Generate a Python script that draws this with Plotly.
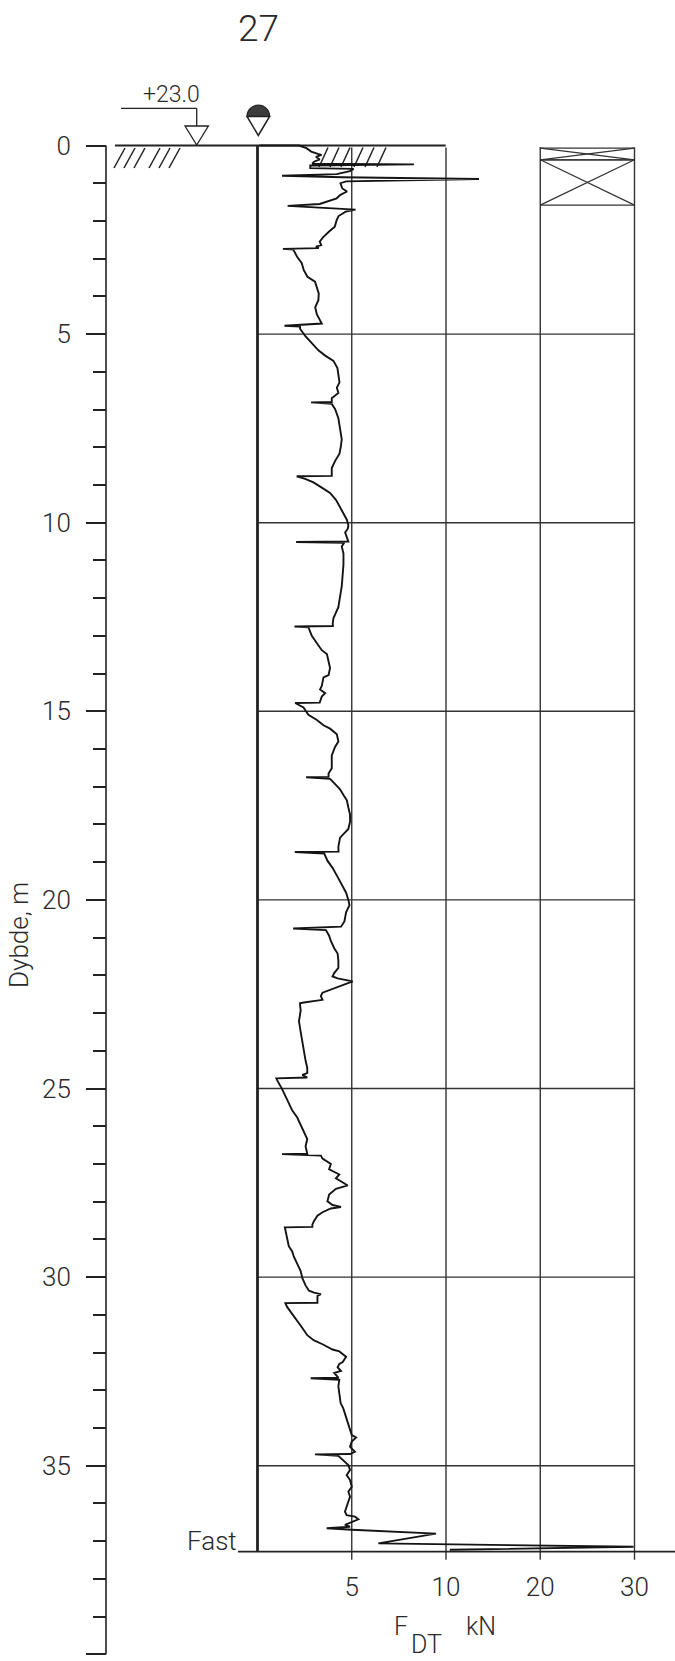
import plotly.graph_objects as go

# ---------------- data ----------------
depth_m = [
    0.00, 0.00, 0.07, 0.16, 0.22, 0.25, 0.30, 0.37, 0.43, 0.48, 0.50, 0.53, 0.60, 0.62, 0.68,
    0.76, 0.80, 0.84, 0.89, 0.95, 1.00, 1.14, 1.22, 1.31, 1.40, 1.48, 1.55, 1.60, 1.70, 1.75,
    1.87, 1.98, 2.15, 2.28, 2.42, 2.55, 2.64, 2.68, 2.72, 2.74, 2.76, 2.95, 3.12, 3.30, 3.48,
    3.61, 3.74, 3.92, 4.10, 4.29, 4.48, 4.72, 4.78, 4.80, 4.86, 5.05, 5.24, 5.43, 5.57, 5.71,
    5.90, 6.09, 6.28, 6.42, 6.56, 6.70, 6.80, 6.81, 6.85, 6.99, 7.23, 7.51, 7.79, 7.98, 8.17,
    8.36, 8.46, 8.55, 8.76, 8.77, 8.84, 8.93, 9.07, 9.21, 9.40, 9.59, 9.78, 9.92, 10.07, 10.16,
    10.26, 10.40, 10.50, 10.51, 10.53, 10.63, 10.82, 11.11, 11.39, 11.68, 11.96, 12.24, 12.43, 12.53, 12.67,
    12.74, 12.75, 12.77, 13.00, 13.19, 13.38, 13.48, 13.66, 13.85, 14.04, 14.10, 14.33, 14.42, 14.52, 14.61,
    14.77, 14.78, 14.90, 15.09, 15.23, 15.37, 15.46, 15.61, 15.80, 15.94, 16.17, 16.51, 16.65, 16.74, 16.75,
    16.79, 16.93, 17.07, 17.22, 17.36, 17.55, 17.74, 17.93, 18.12, 18.21, 18.35, 18.59, 18.72, 18.73, 18.77,
    18.96, 19.15, 19.39, 19.62, 19.81, 20.00, 20.14, 20.33, 20.57, 20.71, 20.76, 20.80, 20.95, 21.09, 21.28,
    21.42, 21.61, 21.80, 21.94, 22.03, 22.08, 22.16, 22.27, 22.37, 22.46, 22.55, 22.65, 22.72, 22.74, 22.93,
    23.22, 23.50, 23.78, 23.97, 24.26, 24.45, 24.59, 24.64, 24.71, 24.73, 24.78, 25.01, 25.20, 25.39, 25.58,
    25.77, 25.96, 26.15, 26.34, 26.53, 26.67, 26.73, 26.74, 26.78, 26.86, 27.00, 27.14, 27.28, 27.38, 27.47,
    27.57, 27.66, 27.81, 27.99, 28.09, 28.14, 28.18, 28.28, 28.37, 28.51, 28.61, 28.67, 28.68, 28.75, 28.99,
    29.18, 29.32, 29.46, 29.65, 29.84, 30.03, 30.22, 30.36, 30.41, 30.45, 30.50, 30.68, 30.69, 30.79, 30.97,
    31.16, 31.35, 31.54, 31.68, 31.78, 31.92, 31.97, 32.11, 32.25, 32.30, 32.39, 32.49, 32.54, 32.67, 32.68,
    32.72, 32.90, 33.17, 33.34, 33.48, 33.61, 33.79, 33.88, 34.05, 34.19, 34.25, 34.36, 34.50, 34.63, 34.69,
    34.70, 34.74, 34.85, 34.98, 35.11, 35.25, 35.38, 35.56, 35.69, 35.82, 35.95, 36.08, 36.22, 36.31, 36.35,
    36.42, 36.48, 36.53, 36.57, 36.62, 36.66, 36.70, 36.80, 37.06, 37.15, 37.23,
]
force_kN = [
    0.10, 2.20, 2.60, 2.85, 3.20, 3.40, 3.10, 3.30, 3.00, 2.90, 8.30, 2.80, 2.80, 5.10, 4.90,
    4.20, 1.30, 4.50, 13.5, 4.70, 4.40, 4.50, 4.75, 4.40, 4.20, 3.70, 3.30, 1.60, 5.20, 4.70,
    4.30, 4.20, 4.10, 3.80, 3.50, 3.30, 3.38, 3.10, 3.25, 1.35, 1.90, 2.10, 2.35, 2.45, 2.65,
    3.05, 3.15, 3.25, 3.23, 3.06, 3.15, 3.41, 1.43, 2.26, 2.26, 2.53, 2.88, 3.23, 3.59, 4.03,
    4.24, 4.29, 4.35, 4.21, 4.29, 3.94, 3.94, 2.84, 3.94, 4.12, 4.29, 4.38, 4.47, 4.42, 4.35,
    4.12, 4.03, 3.94, 3.94, 2.08, 2.53, 2.97, 3.41, 3.85, 4.17, 4.38, 4.56, 4.74, 4.82, 4.79,
    4.65, 4.74, 4.82, 2.05, 4.60, 4.47, 4.56, 4.56, 4.52, 4.47, 4.38, 4.29, 4.12, 4.03, 3.99,
    4.00, 1.96, 2.70, 2.88, 3.15, 3.41, 3.68, 3.77, 3.85, 3.77, 3.50, 3.41, 3.32, 3.59, 3.41,
    3.30, 2.00, 2.44, 2.70, 3.15, 3.50, 3.85, 4.21, 4.29, 4.12, 3.94, 3.94, 3.77, 3.77, 2.58,
    3.85, 4.12, 4.38, 4.56, 4.74, 4.82, 4.91, 4.91, 4.82, 4.65, 4.38, 4.29, 4.30, 1.98, 3.54,
    3.71, 3.98, 4.25, 4.52, 4.70, 4.82, 4.88, 4.70, 4.61, 4.43, 1.89, 3.63, 3.80, 3.89, 4.07,
    4.25, 4.29, 4.29, 4.07, 3.98, 4.25, 5.05, 4.43, 3.89, 3.45, 3.36, 3.45, 2.46, 2.25, 2.29,
    2.20, 2.29, 2.38, 2.46, 2.55, 2.64, 2.64, 2.38, 2.64, 1.00, 1.04, 1.30, 1.48, 1.66, 1.84,
    2.11, 2.29, 2.46, 2.64, 2.55, 2.64, 2.64, 1.30, 3.36, 3.45, 3.89, 3.80, 4.34, 4.16, 4.43,
    4.79, 4.16, 3.80, 3.71, 3.98, 4.43, 3.89, 3.45, 3.18, 3.00, 2.91, 2.91, 1.45, 1.48, 1.57,
    1.66, 1.84, 1.93, 2.11, 2.29, 2.38, 2.55, 2.73, 3.00, 3.36, 3.18, 3.18, 1.48, 1.57, 1.84,
    2.11, 2.38, 2.64, 3.00, 3.45, 3.98, 4.34, 4.70, 4.52, 4.34, 4.25, 4.43, 4.07, 4.30, 2.82,
    4.34, 4.29, 4.34, 4.41, 4.55, 4.64, 4.73, 4.82, 4.91, 5.00, 5.23, 5.00, 4.91, 5.17, 4.91,
    3.05, 4.29, 4.55, 4.82, 4.91, 4.73, 4.91, 5.00, 4.82, 4.91, 4.82, 4.73, 4.64, 4.73, 5.17,
    5.35, 5.08, 4.91, 4.64, 4.91, 3.67, 5.00, 9.47, 6.41, 29.9, 10.4,
]

depth_ticks = [0, 5, 10, 15, 20, 25, 30, 35, 40]
depth_minor = [d for d in range(1, 40) if d % 5 != 0]
force_ticks = [5, 10, 20, 30]          # kN, piecewise scale 0-5-10-20-30
force_tick_text = ["5", "10", "20", "30"]
grid_depths = [5, 10, 15, 20, 25, 30, 35]
fast_depth = 37.28                     # "Fast" (refusal) level, m
terrain_level = "+23.0"
borehole_no = "27"
sample_tops = [0.07, 0.38]             # sample column (X boxes)
sample_bottoms = [0.38, 1.58]

# ---------------- scales / layout geometry ----------------
W, H = 675, 1661
U0_PX, U_PX = 257.5, 94.25     # x pixel of F=0 and pixels per scale segment
D0_PX, D_PX = 145.5, 37.72     # y pixel of depth 0 and pixels per metre


def f2u(f):
    """piecewise force scale: 0-5-10 linear, then 10-20-30"""
    return f / 5.0 if f <= 10 else 2.0 + (f - 10.0) / 10.0


def px_u(px):
    return (px - U0_PX) / U_PX


def px_d(py):
    return (py - D0_PX) / D_PX


INK = "#222222"
GRID = "#333333"
TXT = "#2a2a2a"
FONT = "Roboto, 'Open Sans', sans-serif"
FW = 300

fig = go.Figure()
fig.add_trace(go.Scatter(
    x=[f2u(f) for f in force_kN], y=depth_m, mode="lines",
    line=dict(color="#141414", width=1.9), hoverinfo="skip", showlegend=False,
))

shapes = []


def line(x0, y0, x1, y1, w=1.4, c=GRID):
    shapes.append(dict(type="line", xref="x", yref="y", x0=x0, y0=y0, x1=x1, y1=y1,
                       line=dict(color=c, width=w), layer="below"))


def pline(px0, py0, px1, py1, w=1.4, c=GRID):
    line(px_u(px0), px_d(py0), px_u(px1), px_d(py1), w, c)


u_max = f2u(force_ticks[-1])
top_d = px_d(147.5)
# horizontal grid
for d in grid_depths:
    line(0, d, u_max, d)
# vertical grid with ticks below the Fast line
for f in force_ticks:
    line(f2u(f), top_d, f2u(f), fast_depth + px_d(D0_PX + 8))
# F = 0 thick line
line(0, 0, 0, fast_depth, w=2.8, c=INK)
# bottom (Fast) line
pline(238, D0_PX + fast_depth * D_PX, 675, D0_PX + fast_depth * D_PX, w=1.7, c=INK)
# ground line
pline(115, D0_PX, 445.7, D0_PX, w=1.9, c=INK)
# left depth axis line
pline(106, D0_PX, 106, D0_PX + 40 * D_PX, w=1.6, c=INK)

# hatching (ground surface)
for xt in [125, 135, 145, 160, 170, 180]:
    pline(xt, 148, xt - 11, 168, w=1.5, c=INK)
for xt in [328, 339, 350, 363, 374, 386]:
    pline(xt, 147.5, xt - 9, 167, w=1.5, c=INK)

# sample column boxes
u20, u30 = f2u(20), f2u(30)
for t, b in zip(sample_tops, sample_bottoms):
    line(u20, t, u30, t, w=1.4)
    line(u20, b, u30, b, w=1.4)
    line(u20, t, u30, b, w=1.2)
    line(u20, b, u30, t, w=1.2)
line(u20, sample_tops[0], u20, top_d, w=1.4)

# terrain level marker
pline(121, 108.3, 196.7, 108.3, w=1.3, c=INK)
pline(196.7, 108.3, 196.7, 126, w=1.3, c=INK)


def path(points, close=True):
    s = "M " + " L ".join(f"{px_u(x):.5f},{px_d(y):.5f}" for x, y in points)
    return s + (" Z" if close else "")


shapes.append(dict(type="path", xref="x", yref="y",
                   path=path([(185, 126), (208.4, 126), (196.7, 145)]),
                   fillcolor="white", line=dict(color=INK, width=1.3)))

# ground-water symbol: filled dome + open triangle
cx, cy, r = 258.3, 116.5, 11.3
k = 0.5523 * r
dome = (f"M {px_u(cx - r):.5f},{px_d(cy):.5f} "
        f"C {px_u(cx - r):.5f},{px_d(cy - k):.5f} {px_u(cx - k):.5f},{px_d(cy - r):.5f} {px_u(cx):.5f},{px_d(cy - r):.5f} "
        f"C {px_u(cx + k):.5f},{px_d(cy - r):.5f} {px_u(cx + r):.5f},{px_d(cy - k):.5f} {px_u(cx + r):.5f},{px_d(cy):.5f} Z")
shapes.append(dict(type="path", xref="x", yref="y", path=dome,
                   fillcolor="#3c3c3c", line=dict(color=INK, width=1.2)))
shapes.append(dict(type="path", xref="x", yref="y",
                   path=path([(cx - r, cy), (cx + r, cy), (cx, 135.5)]),
                   fillcolor="white", line=dict(color=INK, width=1.5)))

annotations = []


def text(px, py, s, size, xanchor="center", yanchor="middle", angle=0):
    annotations.append(dict(x=px_u(px), y=px_d(py), xref="x", yref="y", text=s,
                            showarrow=False, xanchor=xanchor, yanchor=yanchor,
                            textangle=angle, borderpad=0,
                            font=dict(family=FONT, size=size, color=TXT, weight=FW)))


text(258, 28, borehole_no, 37)
text(171.5, 94, terrain_level, 23)
text(238, 1541, "Fast", 26, xanchor="right")
text(408.5, 1626, "F", 25, xanchor="right")
text(409.5, 1644, "DT", 25, xanchor="left")
text(481, 1626, "kN", 25)
text(19, 935, "Dybde, m", 26, angle=-90)

fig.update_layout(
    width=W, height=H, margin=dict(l=0, r=0, t=0, b=0),
    paper_bgcolor="white", plot_bgcolor="white",
    shapes=shapes, annotations=annotations, showlegend=False,
    xaxis=dict(
        domain=[0, 1], range=[px_u(0), px_u(W)], anchor="free",
        position=1 - (D0_PX + fast_depth * D_PX) / H,
        tickvals=[f2u(f) for f in force_ticks], ticktext=force_tick_text,
        ticks="", showgrid=False, zeroline=False, showline=False,
        ticklabelstandoff=17,
        tickfont=dict(family=FONT, size=26, color=TXT, weight=FW),
    ),
    yaxis=dict(
        domain=[0, 1], range=[px_d(H), px_d(0)], anchor="free",
        position=106 / W,
        tickvals=depth_ticks, ticks="outside", ticklen=20, tickwidth=1.6, tickcolor=INK,
        minor=dict(tickvals=depth_minor, ticks="outside", ticklen=13, tickwidth=1.6, tickcolor=INK),
        showgrid=False, zeroline=False, showline=False,
        ticklabelstandoff=10,
        tickfont=dict(family=FONT, size=26, color=TXT, weight=FW),
    ),
)

fig.write_html("out.html")
